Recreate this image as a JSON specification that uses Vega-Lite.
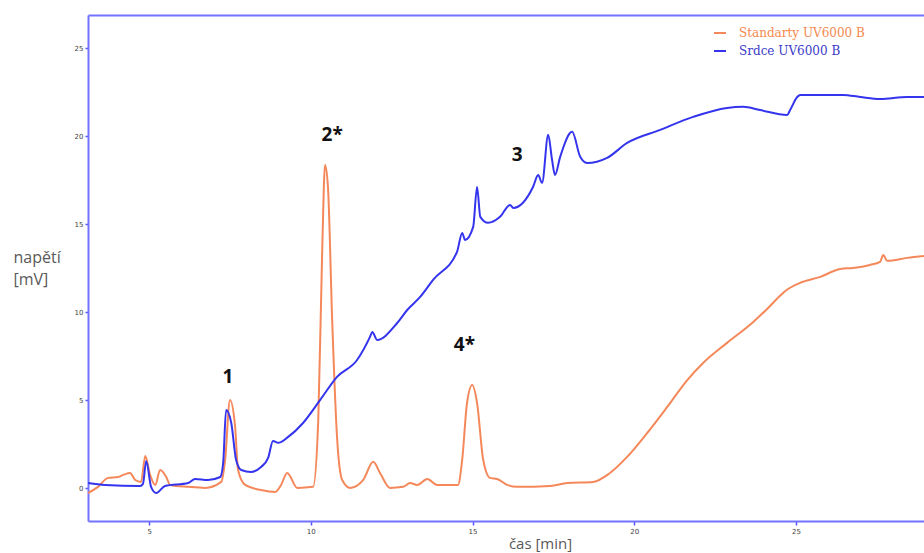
{
  "$schema": "https://vega.github.io/schema/vega-lite/v6.json",
  "width": 836,
  "height": 506,
  "autosize": {"type": "none"},
  "padding": {"left": 88, "top": 15, "right": 0, "bottom": 32},
  "background": "white",
  "config": {
    "view": {"stroke": null},
    "axis": {"grid": false}
  },
  "datasets": {
    "chrom": [
      {"t": 3.114, "mV": -0.26, "series": "Standarty UV6000 B"},
      {"t": 3.42, "mV": 0.09, "series": "Standarty UV6000 B"},
      {"t": 3.73, "mV": 0.6, "series": "Standarty UV6000 B"},
      {"t": 4.04, "mV": 0.65, "series": "Standarty UV6000 B"},
      {"t": 4.2, "mV": 0.77, "series": "Standarty UV6000 B"},
      {"t": 4.41, "mV": 0.88, "series": "Standarty UV6000 B"},
      {"t": 4.57, "mV": 0.48, "series": "Standarty UV6000 B"},
      {"t": 4.75, "mV": 0.37, "series": "Standarty UV6000 B"},
      {"t": 4.88, "mV": 1.85, "series": "Standarty UV6000 B"},
      {"t": 5.03, "mV": 0.77, "series": "Standarty UV6000 B"},
      {"t": 5.19, "mV": 0.2, "series": "Standarty UV6000 B"},
      {"t": 5.34, "mV": 1.05, "series": "Standarty UV6000 B"},
      {"t": 5.53, "mV": 0.65, "series": "Standarty UV6000 B"},
      {"t": 5.65, "mV": 0.2, "series": "Standarty UV6000 B"},
      {"t": 6.21, "mV": 0.09, "series": "Standarty UV6000 B"},
      {"t": 6.73, "mV": 0.03, "series": "Standarty UV6000 B"},
      {"t": 7.23, "mV": 0.37, "series": "Standarty UV6000 B"},
      {"t": 7.35, "mV": 1.62, "series": "Standarty UV6000 B"},
      {"t": 7.5, "mV": 5.03, "series": "Standarty UV6000 B"},
      {"t": 7.66, "mV": 3.49, "series": "Standarty UV6000 B"},
      {"t": 7.75, "mV": 1.05, "series": "Standarty UV6000 B"},
      {"t": 7.97, "mV": 0.2, "series": "Standarty UV6000 B"},
      {"t": 8.46, "mV": -0.09, "series": "Standarty UV6000 B"},
      {"t": 8.9, "mV": -0.2, "series": "Standarty UV6000 B"},
      {"t": 9.08, "mV": 0.2, "series": "Standarty UV6000 B"},
      {"t": 9.27, "mV": 0.88, "series": "Standarty UV6000 B"},
      {"t": 9.58, "mV": 0.03, "series": "Standarty UV6000 B"},
      {"t": 10.07, "mV": 0.09, "series": "Standarty UV6000 B"},
      {"t": 10.23, "mV": 3.89, "series": "Standarty UV6000 B"},
      {"t": 10.35, "mV": 13.38, "series": "Standarty UV6000 B"},
      {"t": 10.44, "mV": 18.38, "series": "Standarty UV6000 B"},
      {"t": 10.53, "mV": 17.13, "series": "Standarty UV6000 B"},
      {"t": 10.66, "mV": 9.57, "series": "Standarty UV6000 B"},
      {"t": 10.81, "mV": 2.93, "series": "Standarty UV6000 B"},
      {"t": 10.97, "mV": 0.48, "series": "Standarty UV6000 B"},
      {"t": 11.22, "mV": 0.03, "series": "Standarty UV6000 B"},
      {"t": 11.62, "mV": 0.48, "series": "Standarty UV6000 B"},
      {"t": 11.93, "mV": 1.51, "series": "Standarty UV6000 B"},
      {"t": 12.14, "mV": 0.88, "series": "Standarty UV6000 B"},
      {"t": 12.45, "mV": 0.03, "series": "Standarty UV6000 B"},
      {"t": 12.85, "mV": 0.09, "series": "Standarty UV6000 B"},
      {"t": 13.07, "mV": 0.31, "series": "Standarty UV6000 B"},
      {"t": 13.29, "mV": 0.2, "series": "Standarty UV6000 B"},
      {"t": 13.6, "mV": 0.54, "series": "Standarty UV6000 B"},
      {"t": 13.91, "mV": 0.2, "series": "Standarty UV6000 B"},
      {"t": 14.55, "mV": 0.2, "series": "Standarty UV6000 B"},
      {"t": 14.68, "mV": 1.62, "series": "Standarty UV6000 B"},
      {"t": 14.83, "mV": 4.86, "series": "Standarty UV6000 B"},
      {"t": 14.99, "mV": 5.88, "series": "Standarty UV6000 B"},
      {"t": 15.14, "mV": 4.86, "series": "Standarty UV6000 B"},
      {"t": 15.33, "mV": 1.62, "series": "Standarty UV6000 B"},
      {"t": 15.54, "mV": 0.6, "series": "Standarty UV6000 B"},
      {"t": 15.76, "mV": 0.54, "series": "Standarty UV6000 B"},
      {"t": 16.07, "mV": 0.2, "series": "Standarty UV6000 B"},
      {"t": 16.38, "mV": 0.09, "series": "Standarty UV6000 B"},
      {"t": 17.4, "mV": 0.14, "series": "Standarty UV6000 B"},
      {"t": 17.93, "mV": 0.31, "series": "Standarty UV6000 B"},
      {"t": 18.73, "mV": 0.37, "series": "Standarty UV6000 B"},
      {"t": 19.25, "mV": 0.88, "series": "Standarty UV6000 B"},
      {"t": 19.78, "mV": 1.79, "series": "Standarty UV6000 B"},
      {"t": 20.4, "mV": 3.15, "series": "Standarty UV6000 B"},
      {"t": 21.02, "mV": 4.63, "series": "Standarty UV6000 B"},
      {"t": 21.64, "mV": 6.16, "series": "Standarty UV6000 B"},
      {"t": 22.13, "mV": 7.13, "series": "Standarty UV6000 B"},
      {"t": 22.87, "mV": 8.27, "series": "Standarty UV6000 B"},
      {"t": 23.68, "mV": 9.46, "series": "Standarty UV6000 B"},
      {"t": 24.11, "mV": 10.2, "series": "Standarty UV6000 B"},
      {"t": 24.51, "mV": 10.95, "series": "Standarty UV6000 B"},
      {"t": 24.73, "mV": 11.3, "series": "Standarty UV6000 B"},
      {"t": 25.13, "mV": 11.68, "series": "Standarty UV6000 B"},
      {"t": 25.75, "mV": 12.02, "series": "Standarty UV6000 B"},
      {"t": 26.37, "mV": 12.47, "series": "Standarty UV6000 B"},
      {"t": 26.77, "mV": 12.53, "series": "Standarty UV6000 B"},
      {"t": 27.29, "mV": 12.7, "series": "Standarty UV6000 B"},
      {"t": 27.6, "mV": 12.87, "series": "Standarty UV6000 B"},
      {"t": 27.7, "mV": 13.27, "series": "Standarty UV6000 B"},
      {"t": 27.82, "mV": 12.93, "series": "Standarty UV6000 B"},
      {"t": 28.44, "mV": 13.1, "series": "Standarty UV6000 B"},
      {"t": 28.96, "mV": 13.21, "series": "Standarty UV6000 B"},
      {"t": 3.114, "mV": 0.31, "series": "Srdce UV6000 B"},
      {"t": 3.64, "mV": 0.2, "series": "Srdce UV6000 B"},
      {"t": 4.72, "mV": 0.14, "series": "Srdce UV6000 B"},
      {"t": 4.81, "mV": 0.26, "series": "Srdce UV6000 B"},
      {"t": 4.91, "mV": 1.56, "series": "Srdce UV6000 B"},
      {"t": 5.06, "mV": 0.09, "series": "Srdce UV6000 B"},
      {"t": 5.22, "mV": -0.26, "series": "Srdce UV6000 B"},
      {"t": 5.49, "mV": 0.14, "series": "Srdce UV6000 B"},
      {"t": 6.21, "mV": 0.31, "series": "Srdce UV6000 B"},
      {"t": 6.42, "mV": 0.54, "series": "Srdce UV6000 B"},
      {"t": 6.82, "mV": 0.48, "series": "Srdce UV6000 B"},
      {"t": 7.2, "mV": 0.65, "series": "Srdce UV6000 B"},
      {"t": 7.29, "mV": 1.45, "series": "Srdce UV6000 B"},
      {"t": 7.38, "mV": 4.46, "series": "Srdce UV6000 B"},
      {"t": 7.54, "mV": 3.72, "series": "Srdce UV6000 B"},
      {"t": 7.69, "mV": 1.62, "series": "Srdce UV6000 B"},
      {"t": 7.85, "mV": 1.05, "series": "Srdce UV6000 B"},
      {"t": 8.15, "mV": 0.94, "series": "Srdce UV6000 B"},
      {"t": 8.46, "mV": 1.22, "series": "Srdce UV6000 B"},
      {"t": 8.68, "mV": 1.73, "series": "Srdce UV6000 B"},
      {"t": 8.83, "mV": 2.7, "series": "Srdce UV6000 B"},
      {"t": 8.99, "mV": 2.59, "series": "Srdce UV6000 B"},
      {"t": 9.3, "mV": 2.93, "series": "Srdce UV6000 B"},
      {"t": 9.76, "mV": 3.72, "series": "Srdce UV6000 B"},
      {"t": 10.29, "mV": 5.03, "series": "Srdce UV6000 B"},
      {"t": 10.81, "mV": 6.34, "series": "Srdce UV6000 B"},
      {"t": 11.43, "mV": 7.3, "series": "Srdce UV6000 B"},
      {"t": 11.83, "mV": 8.61, "series": "Srdce UV6000 B"},
      {"t": 11.9, "mV": 8.89, "series": "Srdce UV6000 B"},
      {"t": 12.05, "mV": 8.44, "series": "Srdce UV6000 B"},
      {"t": 12.67, "mV": 9.4, "series": "Srdce UV6000 B"},
      {"t": 12.98, "mV": 10.14, "series": "Srdce UV6000 B"},
      {"t": 13.38, "mV": 10.88, "series": "Srdce UV6000 B"},
      {"t": 13.78, "mV": 11.85, "series": "Srdce UV6000 B"},
      {"t": 14.52, "mV": 13.44, "series": "Srdce UV6000 B"},
      {"t": 14.68, "mV": 14.52, "series": "Srdce UV6000 B"},
      {"t": 14.77, "mV": 14.12, "series": "Srdce UV6000 B"},
      {"t": 15.02, "mV": 14.86, "series": "Srdce UV6000 B"},
      {"t": 15.14, "mV": 17.13, "series": "Srdce UV6000 B"},
      {"t": 15.24, "mV": 15.43, "series": "Srdce UV6000 B"},
      {"t": 15.48, "mV": 15.09, "series": "Srdce UV6000 B"},
      {"t": 15.85, "mV": 15.43, "series": "Srdce UV6000 B"},
      {"t": 16.16, "mV": 16.11, "series": "Srdce UV6000 B"},
      {"t": 16.26, "mV": 15.94, "series": "Srdce UV6000 B"},
      {"t": 16.87, "mV": 17.13, "series": "Srdce UV6000 B"},
      {"t": 17.03, "mV": 17.81, "series": "Srdce UV6000 B"},
      {"t": 17.15, "mV": 17.36, "series": "Srdce UV6000 B"},
      {"t": 17.34, "mV": 20.09, "series": "Srdce UV6000 B"},
      {"t": 17.46, "mV": 18.66, "series": "Srdce UV6000 B"},
      {"t": 17.55, "mV": 17.81, "series": "Srdce UV6000 B"},
      {"t": 17.71, "mV": 18.84, "series": "Srdce UV6000 B"},
      {"t": 18.08, "mV": 20.26, "series": "Srdce UV6000 B"},
      {"t": 18.33, "mV": 18.84, "series": "Srdce UV6000 B"},
      {"t": 18.54, "mV": 18.49, "series": "Srdce UV6000 B"},
      {"t": 19.16, "mV": 18.78, "series": "Srdce UV6000 B"},
      {"t": 19.78, "mV": 19.63, "series": "Srdce UV6000 B"},
      {"t": 20.8, "mV": 20.37, "series": "Srdce UV6000 B"},
      {"t": 21.82, "mV": 21.11, "series": "Srdce UV6000 B"},
      {"t": 22.87, "mV": 21.62, "series": "Srdce UV6000 B"},
      {"t": 23.37, "mV": 21.68, "series": "Srdce UV6000 B"},
      {"t": 23.89, "mV": 21.5, "series": "Srdce UV6000 B"},
      {"t": 24.73, "mV": 21.22, "series": "Srdce UV6000 B"},
      {"t": 24.82, "mV": 21.5, "series": "Srdce UV6000 B"},
      {"t": 25.04, "mV": 22.24, "series": "Srdce UV6000 B"},
      {"t": 25.13, "mV": 22.36, "series": "Srdce UV6000 B"},
      {"t": 26.46, "mV": 22.36, "series": "Srdce UV6000 B"},
      {"t": 26.99, "mV": 22.24, "series": "Srdce UV6000 B"},
      {"t": 27.6, "mV": 22.13, "series": "Srdce UV6000 B"},
      {"t": 28.44, "mV": 22.24, "series": "Srdce UV6000 B"},
      {"t": 28.96, "mV": 22.24, "series": "Srdce UV6000 B"}
    ],
    "peaks": [
      {"t": 7.44, "mV": 6.34, "label": "1"},
      {"t": 10.66, "mV": 20.09, "label": "2*"},
      {"t": 16.38, "mV": 18.95, "label": "3"},
      {"t": 14.75, "mV": 8.15, "label": "4*"}
    ]
  },
  "resolve": {"axis": {"x": "independent"}},
  "layer": [
    {
      "data": {"name": "chrom"},
      "transform": [{"filter": "datum.series == 'Standarty UV6000 B'"}],
      "mark": {"type": "line", "strokeWidth": 2, "interpolate": "monotone"},
      "encoding": {
        "x": {
          "field": "t", "type": "quantitative",
          "scale": {"domain": [3.11, 28.96], "nice": false, "zero": false},
          "axis": {
            "orient": "bottom",
            "values": [5, 10, 15, 20, 25],
            "domainColor": "#7373ff", "domainWidth": 2,
            "tickColor": "#5555ff", "tickSize": 4, "tickWidth": 1.5,
            "labelFontSize": 7, "labelColor": "#444444", "labelPadding": 2, "labelFont": "DejaVu Sans",
            "title": "čas [min]", "titleFont": "Open Sans", "titleFontSize": 15, "titleFontWeight": "normal",
            "titleColor": "#595959", "titleX": 452, "titleY": 27, "titleAlign": "center", "titleBaseline": "alphabetic"
          }
        },
        "y": {
          "field": "mV", "type": "quantitative",
          "scale": {"domain": [-1.85, 26.9], "nice": false, "zero": false},
          "axis": {
            "values": [0, 5, 10, 15, 20, 25],
            "domainColor": "#7373ff", "domainWidth": 2,
            "tickColor": "#5555ff", "tickSize": 3, "tickWidth": 1.5,
            "labelFontSize": 7, "labelColor": "#444444", "labelPadding": 2, "labelFont": "DejaVu Sans",
            "title": ["napětí", "[mV]"], "titleFont": "Open Sans", "titleFontSize": 16, "titleFontWeight": "normal",
            "titleColor": "#595959", "titleAngle": 0, "titleAlign": "left", "titleBaseline": "alphabetic",
            "titleX": -75, "titleY": 247, "titleLineHeight": 22
          }
        },
        "color": {
          "field": "series", "type": "nominal",
          "scale": {"domain": ["Standarty UV6000 B", "Srdce UV6000 B"], "range": ["#f4885a", "#3434ee"]},
          "legend": {
            "title": null, "orient": "none", "legendX": 625, "legendY": 11, "padding": 0,
            "symbolType": "stroke", "symbolSize": 144, "symbolStrokeWidth": 2,
            "labelFont": "DejaVu Serif", "labelFontSize": 12, "labelOffset": 12, "rowPadding": 5,
            "encode": {"labels": {"update": {"fill": {"signal": "datum.label == 'Standarty UV6000 B' ? '#f4884e' : '#3a3ac8'"}}}}
          }
        }
      }
    },
    {
      "data": {"name": "chrom"},
      "transform": [{"filter": "datum.series == 'Srdce UV6000 B'"}],
      "mark": {"type": "line", "strokeWidth": 2, "interpolate": "monotone"},
      "encoding": {
        "x": {"field": "t", "type": "quantitative", "axis": null},
        "y": {"field": "mV", "type": "quantitative"},
        "color": {"field": "series", "type": "nominal"}
      }
    },
    {
      "data": {"name": "peaks"},
      "mark": {"type": "text", "font": "Open Sans", "fontSize": 19, "fontWeight": "bold", "color": "#111111", "align": "center", "baseline": "middle"},
      "encoding": {
        "x": {
          "field": "t", "type": "quantitative",
          "axis": {"orient": "top", "labels": false, "ticks": false, "title": null, "domainColor": "#7373ff", "domainWidth": 2}
        },
        "y": {"field": "mV", "type": "quantitative"},
        "text": {"field": "label"}
      }
    }
  ]
}
